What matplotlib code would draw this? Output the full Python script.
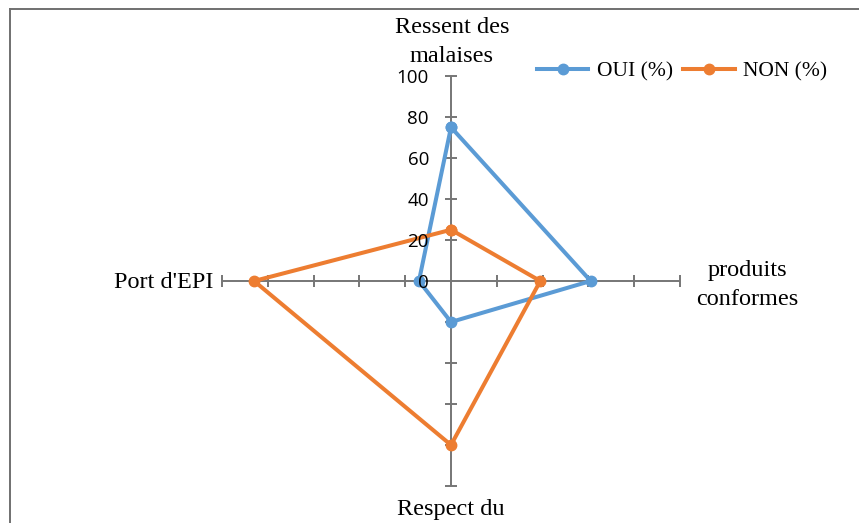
import numpy as np
import matplotlib
matplotlib.use("Agg")
import matplotlib.pyplot as plt
from matplotlib.lines import Line2D
from matplotlib.transforms import ScaledTranslation

# ---------------- data ----------------
categories = ["Ressent des\nmalaises", "produits\nconformes", "Respect du", "Port d'EPI"]
oui = [75, 61, 20, 14]
non = [25, 39, 80, 86]
series_names = ["OUI (%)", "NON (%)"]
tick_values = [0, 20, 40, 60, 80, 100]
r_max = 100

# ---------------- style ----------------
W, H, DPI = 859, 523, 100
BLUE = "#5B9BD5"
ORANGE = "#ED7D31"
GRAY = "#767676"
SERIF = ["Liberation Serif", "DejaVu Serif"]
SANS = ["Open Sans", "DejaVu Sans"]

fig = plt.figure(figsize=(W / DPI, H / DPI), dpi=DPI)
fig.patch.set_facecolor("white")

# axes rectangle (centre of radar at px (451, 281), stretched horizontally)
cx, cy = 451, 281
rx, ry = 229, 205
ax = fig.add_axes([(cx - rx) / W, (H - (cy + ry)) / H, 2 * rx / W, 2 * ry / H])
ax.set_xlim(-r_max, r_max)
ax.set_ylim(-r_max, r_max)
ax.set_axis_off()

n = len(categories)
theta = np.deg2rad(np.arange(n) * 360.0 / n)  # clockwise from top
dx, dy = np.sin(theta), np.cos(theta)
dx[np.abs(dx) < 1e-12] = 0
dy[np.abs(dy) < 1e-12] = 0

# spokes with cross tick marks
tick_r = np.array(tick_values[1:])
for i in range(n):
    ax.plot([0, r_max * dx[i]], [0, r_max * dy[i]], color=GRAY, lw=1.4, zorder=1,
            solid_capstyle="butt", clip_on=False)
    mk = "_" if dx[i] == 0 else "|"
    ax.plot(tick_r * dx[i], tick_r * dy[i], ls="none", marker=mk, ms=8,
            mew=1.4, color=GRAY, zorder=1, clip_on=False)

def px(x, y):
    return ScaledTranslation(x / DPI, y / DPI, fig.dpi_scale_trans)

# value labels along the top spoke
for v in tick_values:
    ax.text(v * dx[0], v * dy[0], str(v), ha="right", va="center",
            fontsize=13.5, family=SANS, color="black", zorder=5,
            transform=ax.transData + px(-22, -2))

# category labels
offsets = [(1, 34, "center", "center"), (67, -4, "center", "center"),
           (0, -24, "center", "center"), (-9, -2, "right", "center")]
for i, lab in enumerate(categories):
    ox, oy, ha, va = offsets[i]
    ax.text(r_max * dx[i], r_max * dy[i], lab, ha=ha, va=va, fontsize=17.5,
            family=SERIF, color="black", linespacing=1.45, multialignment="center",
            transform=ax.transData + px(ox, oy), clip_on=False)

# series
for vals, col, name, z in [(oui, BLUE, series_names[0], 3), (non, ORANGE, series_names[1], 4)]:
    v = np.array(vals + vals[:1], dtype=float)
    xs = v * np.append(dx, dx[0])
    ys = v * np.append(dy, dy[0])
    ax.plot(xs, ys, color=col, lw=2.9, marker="o", ms=7.5, label=name,
            zorder=z, clip_on=False, solid_joinstyle="miter")

leg = fig.legend(loc="center", bbox_to_anchor=(682 / W, 1 - 71 / H), ncol=2,
                 frameon=False, prop={"family": SERIF, "size": 15.5},
                 handlelength=2.4, handletextpad=0.4, columnspacing=0.45,
                 borderpad=0, borderaxespad=0)

# chart-area border (only top and left visible in the crop)
x0 = 9.5 / W
y0 = 1 - 8.5 / H
fig.add_artist(Line2D([x0, x0], [-0.1, y0], color="#707070", lw=1.4,
                      transform=fig.transFigure, solid_capstyle="projecting"))
fig.add_artist(Line2D([x0, 1.1], [y0, y0], color="#707070", lw=1.4,
                      transform=fig.transFigure, solid_capstyle="projecting"))

fig.savefig("out.png", dpi=DPI, facecolor="white")
